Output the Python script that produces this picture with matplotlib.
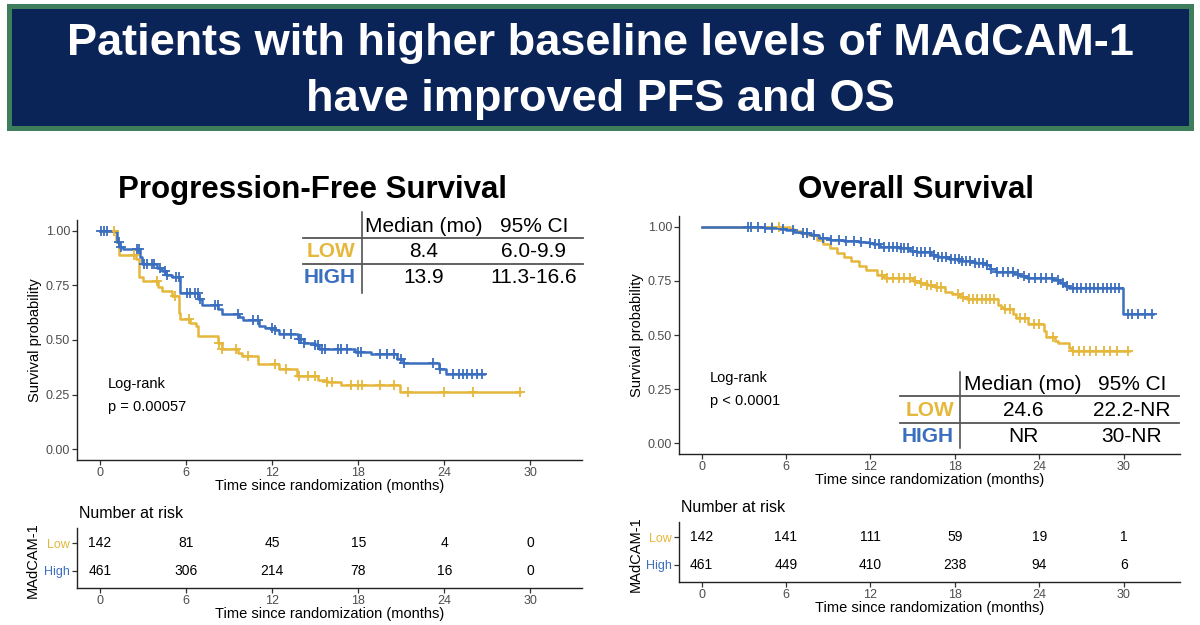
import numpy as np
import matplotlib
matplotlib.use('Agg')
import matplotlib.pyplot as plt
from matplotlib.patches import Rectangle
from matplotlib.lines import Line2D

plt.rcParams['font.family'] = ['Liberation Sans', 'DejaVu Sans']

W, H = 1200, 625
gold = '#E5B73B'
blue = '#3A6EBE'
navy = '#0B2458'
green = '#3E7E5C'

# PFS curves (step times / survival)
pfs_high_t = [0, 1.2, 1.35, 1.6, 2.8, 2.95, 4.0, 4.3, 4.6, 5.0, 5.6, 6.85, 7.1, 8.25, 8.5, 9.7, 9.95, 11.1,
              11.5, 12.2, 12.5, 13.8, 14.2, 15.0, 15.3, 17.8, 18.9, 20.7, 21.1, 23.6, 24.1]
pfs_high_s = [1.00, 0.95, 0.925, 0.915, 0.88, 0.848, 0.83, 0.817, 0.797, 0.787, 0.716, 0.69, 0.66, 0.64,
              0.618, 0.607, 0.592, 0.564, 0.557, 0.545, 0.526, 0.503, 0.485, 0.475, 0.457, 0.445, 0.434,
              0.411, 0.393, 0.365, 0.345]
pfs_high_end = 26.8
pfs_high_cens = [0.1, 0.3, 0.5, 1.3, 1.5, 2.6, 2.75, 3.1, 3.3, 3.6, 3.8, 4.2, 4.5, 4.7, 5.3, 5.5, 6.1, 6.3,
                 6.6, 6.8, 7.0, 8.0, 8.2, 9.6, 10.7, 11.0, 12.0, 12.2, 12.8, 13.3, 13.9, 14.0, 14.2, 15.0,
                 15.2, 15.5, 15.7, 16.6, 16.8, 17.2, 18.0, 18.2, 19.5, 20.0, 20.5, 21.0, 21.2, 23.2, 23.7,
                 24.6, 25.0, 25.3, 25.6, 25.9, 26.3, 26.6]

pfs_low_t = [0, 1.15, 1.3, 2.5, 2.75, 3.0, 4.05, 4.3, 5.05, 5.5, 5.6, 6.3, 6.7, 6.85, 8.25, 8.5, 9.65, 9.9,
             11.05, 12.5, 13.75, 15.2, 15.8, 16.8, 20.9]
pfs_low_s = [1.00, 0.95, 0.89, 0.87, 0.787, 0.772, 0.745, 0.725, 0.702, 0.626, 0.595, 0.58, 0.564, 0.518,
             0.488, 0.46, 0.442, 0.426, 0.388, 0.365, 0.337, 0.316, 0.307, 0.296, 0.26]
pfs_low_end = 29.3
pfs_low_cens = [1.0, 2.4, 4.0, 5.2, 6.2, 8.3, 8.5, 9.5, 10.3, 12.2, 13.0, 13.9, 14.5, 15.0, 15.8, 16.2,
                17.5, 18.0, 18.3, 19.5, 20.5, 21.5, 24.0, 26.0, 29.3]

# OS curves
os_high_t = [0, 4.5, 5.5, 6.0, 6.55, 7.06, 7.8, 8.35, 9.1, 10.1, 11.2, 11.9, 12.2, 12.7, 14.0, 14.8, 15.3,
             16.3, 16.8, 17.6, 18.4, 19.4, 20.2, 20.5, 20.9, 22.2, 22.6, 23.1, 25.0, 25.5, 25.8, 26.1, 29.95]
os_high_s = [1.0, 0.995, 0.99, 0.985, 0.977, 0.97, 0.96, 0.949, 0.94, 0.935, 0.93, 0.925, 0.92, 0.908, 0.90,
             0.89, 0.882, 0.87, 0.86, 0.851, 0.84, 0.835, 0.823, 0.805, 0.793, 0.782, 0.772, 0.762, 0.755,
             0.74, 0.727, 0.716, 0.596]
os_high_end = 32.1
os_high_cens = [3.3, 3.5, 4.0, 4.5, 5.0, 5.8, 6.5, 7.2, 7.5, 8.0, 8.6, 9.2, 9.8, 10.3, 10.8, 11.3, 12.0,
                12.3, 12.6, 13.0, 13.3, 13.6, 13.9, 14.2, 14.4, 14.7, 15.0, 15.3, 15.6, 15.9, 16.2, 16.5,
                16.8, 17.1, 17.4, 17.7, 18.0, 18.3, 18.5, 18.8, 19.1, 19.4, 19.7, 20.0, 20.3, 20.6, 21.0,
                21.4, 21.8, 22.1, 22.5, 22.9, 23.3, 23.7, 24.1, 24.5, 24.9, 25.3, 25.7, 26.0, 26.4, 26.7,
                27.0, 27.3, 27.6, 27.9, 28.2, 28.5, 28.8, 29.1, 29.4, 29.7, 30.3, 30.6, 31.0, 31.5, 32.0]

os_low_t = [0, 6.3, 6.6, 7.06, 7.6, 8.2, 8.6, 9.1, 9.6, 10.1, 10.6, 11.2, 11.7, 12.5, 13.0, 15.0, 15.5, 16.0,
            16.6, 17.3, 17.8, 18.4, 18.9, 21.1, 21.3, 21.5, 22.15, 22.35, 23.2, 24.35, 24.5, 25.1, 25.35,
            26.1, 26.3]
os_low_s = [1.0, 0.99, 0.98, 0.97, 0.96, 0.94, 0.92, 0.90, 0.88, 0.862, 0.84, 0.82, 0.80, 0.777, 0.762, 0.75,
            0.739, 0.73, 0.72, 0.70, 0.69, 0.677, 0.665, 0.64, 0.63, 0.62, 0.595, 0.578, 0.55, 0.52, 0.493,
            0.47, 0.462, 0.44, 0.424]
os_low_end = 30.4
os_low_cens = [5.0, 5.5, 12.8, 13.2, 13.6, 14.0, 14.4, 14.8, 15.2, 15.6, 16.0, 16.3, 16.7, 17.0, 18.2, 18.6,
               19.0, 19.3, 19.6, 19.9, 20.2, 20.5, 20.8, 21.6, 21.9, 22.6, 23.0, 23.6, 24.0, 25.0, 26.4,
               26.8, 27.2, 27.6, 28.0, 28.6, 29.0, 29.5, 30.3]

# number at risk
risk_times = [0, 6, 12, 18, 24, 30]
pfs_risk_low = [142, 81, 45, 15, 4, 0]
pfs_risk_high = [461, 306, 214, 78, 16, 0]
os_risk_low = [142, 141, 111, 59, 19, 1]
os_risk_high = [461, 449, 410, 238, 94, 6]

pfs_table = [['8.4', '6.0-9.9'], ['13.9', '11.3-16.6']]
os_table = [['24.6', '22.2-NR'], ['NR', '30-NR']]

fig = plt.figure(figsize=(12, 6.25), dpi=100)


def fx(x):
    return x / W


def fy(y):
    return 1 - y / H


def add_ax(l, t, r, b):
    return fig.add_axes([fx(l), fy(b), (r - l) / W, (b - t) / H])


def style(ax):
    for s in ['top', 'right']:
        ax.spines[s].set_visible(False)
    for s in ['left', 'bottom']:
        ax.spines[s].set_linewidth(1.0)
        ax.spines[s].set_color('#222222')
    ax.tick_params(length=3.5, width=0.9, color='#333333', labelcolor='#4D4D4D', labelsize=9, pad=1.5)
    ax.set_xticks(risk_times)


def km(ax, t, s, end, cens, color):
    tt = np.array(list(t) + [end])
    ss = np.array(list(s) + [s[-1]])
    ax.step(tt, ss, where='post', color=color, lw=1.8, zorder=3)
    idx = np.searchsorted(tt, cens, side='right') - 1
    ax.plot(cens, ss[idx], '+', color=color, ms=6.5, mew=1.3, zorder=4)


def table(xv, xl, xr, y_top, y_h, y_1, y_bot, cx1, cx2, yh, y1, y2, rows):
    fig.add_artist(Line2D([fx(xv), fx(xv)], [fy(y_top), fy(y_bot)], color='#444444', lw=1.1))
    for y in (y_h, y_1):
        fig.add_artist(Line2D([fx(xl), fx(xr)], [fy(y), fy(y)], color='#555555', lw=1.3))
    fig.text(fx(cx1), fy(yh), 'Median (mo)', ha='center', va='center', fontsize=15)
    fig.text(fx(cx2), fy(yh), '95% CI', ha='center', va='center', fontsize=15)
    for (lab, col), yy, row in zip([('LOW', gold), ('HIGH', blue)], (y1, y2), rows):
        fig.text(fx(xv - 6), fy(yy), lab, ha='right', va='center', fontsize=15, fontweight='bold', color=col)
        fig.text(fx(cx1), fy(yy), row[0], ha='center', va='center', fontsize=15)
        fig.text(fx(cx2), fy(yy), row[1], ha='center', va='center', fontsize=15)


# header banner
fig.add_artist(Rectangle((fx(9), fy(128)), (1182) / W, (122) / H, transform=fig.transFigure,
                         facecolor=navy, edgecolor=green, lw=3.6))
hfont = ['Liberation Sans Narrow', 'Liberation Sans', 'DejaVu Sans']
fig.text(0.5, fy(44), 'Patients with higher baseline levels of MAdCAM-1', ha='center', va='center',
         color='white', fontsize=32.5, fontweight='bold', family=hfont)
fig.text(0.5, fy(99), 'have improved PFS and OS', ha='center', va='center',
         color='white', fontsize=32.5, fontweight='bold', family=hfont)

panels = [
    dict(title='Progression-Free Survival', tx=313, main=(77, 220, 582, 460), risk=(77, 528, 582, 588),
         xlim=(-1.6, 33.6), curves=[(pfs_low_t, pfs_low_s, pfs_low_end, pfs_low_cens, gold),
                                    (pfs_high_t, pfs_high_s, pfs_high_end, pfs_high_cens, blue)],
         lr=(108, 384, 'p = 0.00057'), rl=pfs_risk_low, rh=pfs_risk_high, ylx=35, rylx=33,
         tab=(361.5, 303, 583, 212, 237.5, 264, 293, 424, 534, 226.5, 251.5, 277.5, pfs_table)),
    dict(title='Overall Survival', tx=916, main=(679, 216, 1180, 454), risk=(679, 522, 1180, 582),
         xlim=(-1.6, 34.0), curves=[(os_low_t, os_low_s, os_low_end, os_low_cens, gold),
                                    (os_high_t, os_high_s, os_high_end, os_high_cens, blue)],
         lr=(710, 378, 'p < 0.0001'), rl=os_risk_low, rh=os_risk_high, ylx=637, rylx=636,
         tab=(960, 900, 1179, 372, 396, 422.5, 448, 1023, 1132, 385, 410, 436, os_table)),
]

for p in panels:
    l, t, r, b = p['main']
    ax = add_ax(l, t, r, b)
    style(ax)
    ax.set_xlim(*p['xlim'])
    ax.set_ylim(-0.05, 1.05)
    ax.set_yticks([0, 0.25, 0.5, 0.75, 1.0])
    ax.set_yticklabels(['0.00', '0.25', '0.50', '0.75', '1.00'])
    for c in p['curves']:
        km(ax, *c)
    fig.text(fx(p['ylx']), fy((t + b) / 2), 'Survival probability', rotation=90, ha='center', va='center',
             fontsize=10.5)
    fig.text(fx((l + r) / 2), fy(b + 26), 'Time since randomization (months)', ha='center', va='center',
             fontsize=10.5)
    fig.text(fx(p['tx']), fy(190), p['title'], ha='center', va='center', fontsize=22.5, fontweight='bold')
    lx, ly, ptxt = p['lr']
    fig.text(fx(lx), fy(ly), 'Log-rank', ha='left', va='center', fontsize=10.5)
    fig.text(fx(lx), fy(ly + 23), ptxt, ha='left', va='center', fontsize=10.5)
    table(*p['tab'])

    # risk table
    l, t, r, b = p['risk']
    rax = add_ax(l, t, r, b)
    style(rax)
    rax.set_xlim(*p['xlim'])
    rax.set_ylim(0.39, 2.54)
    rax.set_yticks([1, 2])
    rax.set_yticklabels(['High', 'Low'])
    for lab, col in zip(rax.get_yticklabels(), [blue, gold]):
        lab.set_color(col)
    for x, lo, hi in zip(risk_times, p['rl'], p['rh']):
        rax.text(x, 2, str(lo), ha='center', va='center', fontsize=10)
        rax.text(x, 1, str(hi), ha='center', va='center', fontsize=10)
    fig.text(fx(l + 2), fy(t - 15), 'Number at risk', ha='left', va='center', fontsize=11.5)
    fig.text(fx(p['rylx']), fy((t + b) / 2 + 2), 'MAdCAM-1', rotation=90, ha='center', va='center',
             fontsize=10.5)
    fig.text(fx((l + r) / 2), fy(b + 26), 'Time since randomization (months)', ha='center', va='center',
             fontsize=10.5)

fig.savefig('out.png', dpi=100, facecolor='white')
